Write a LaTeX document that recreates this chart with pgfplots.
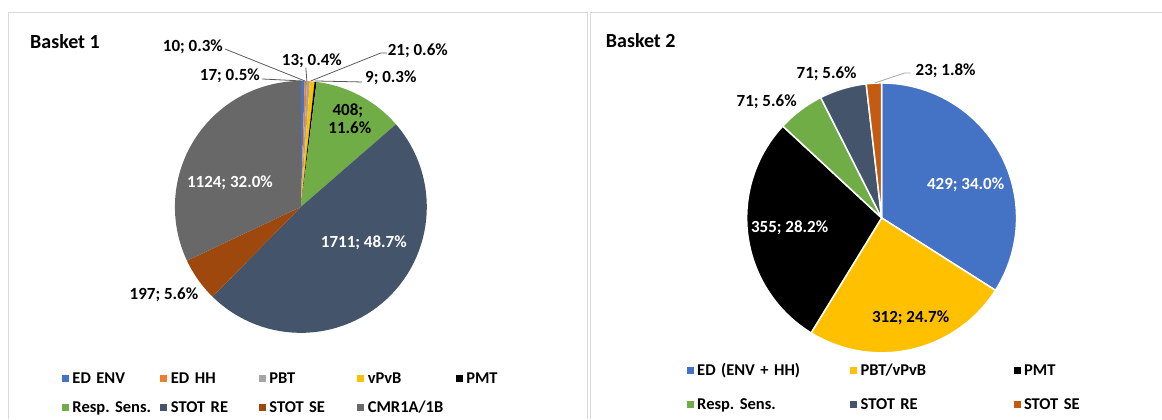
\documentclass[border=0pt]{standalone}
\usepackage{fontspec}
\setmainfont{Carlito}
\usepackage{pgfplots}
\pgfplotsset{compat=1.18}
\frenchspacing

\definecolor{cED}{HTML}{4472C4}
\definecolor{cHH}{HTML}{ED7D31}
\definecolor{cPBT}{HTML}{A5A5A5}
\definecolor{cvP}{HTML}{FFC000}
\definecolor{cPMT}{HTML}{000000}
\definecolor{cResp}{HTML}{70AD47}
\definecolor{cRE}{HTML}{44546A}
\definecolor{cSE}{HTML}{9E480E}
\definecolor{cSEb}{HTML}{C55A11}
\definecolor{cCMR}{HTML}{686868}
\definecolor{cframe}{HTML}{D9D9D9}
\definecolor{clead}{HTML}{595959}
\definecolor{cleadb}{HTML}{A6A6A6}

\newcommand\labfont{\fontsize{17}{20}\selectfont\bfseries}
\newcommand\titfont{\fontsize{20}{24}\selectfont\bfseries}
\tikzset{lab/.style={font=\labfont, inner sep=0pt, text height=11pt, text depth=0pt, anchor=center}}

% pie helpers: centre x, centre y, radius, total
\newcommand\pieinit[4]{\gdef\pcx{#1}\gdef\pcy{#2}\gdef\pr{#3}\gdef\ptot{#4}\gdef\pcum{0}}
\newcommand\pieslice[3]{%
  \pgfmathsetmacro\pa{\pcum/\ptot*360}%
  \pgfmathsetmacro\pnew{\pcum+#2}%
  \pgfmathsetmacro\pb{\pnew/\ptot*360}%
  \xdef\pcum{\pnew}%
  \edef\doslice{\noexpand\addplot[fill=#1, \pedge, samples at={0,1,...,62}, variable=\noexpand\t]
    ({((\noexpand\t<0.5)||(\noexpand\t>61.5)) ? \pcx : \pcx+\pr*sin(\pa+(\noexpand\t-1)*(\pb-\pa)/60)},
     {((\noexpand\t<0.5)||(\noexpand\t>61.5)) ? \pcy : \pcy-\pr*cos(\pa+(\noexpand\t-1)*(\pb-\pa)/60)});}%
  \doslice
  \addlegendentry{#3}%
}

\begin{document}
\begin{tikzpicture}
%================ Basket 1 ================
\begin{axis}[
  at={(0pt,0pt)}, anchor=south west,
  x=1pt, y=1pt, xmin=0, xmax=588, ymin=0, ymax=419, y dir=reverse,
  hide axis, clip=false,
  legend columns=5,
  legend cell align=left,
  legend image code/.code={\fill[draw=none] (0pt,-3.5pt) rectangle (7pt,3.5pt); \path[draw=none,fill=none] (0pt,0pt) -- (10.5pt,0pt);},
  legend style={draw=none, fill=none, inner sep=0pt, outer sep=0pt,
    at={(axis description cs:0.10544,0.11456)}, anchor=north west,
    column sep=0pt, row sep=13pt, font=\fontsize{16.5}{18}\selectfont\bfseries,
    nodes={inner sep=0pt, text width=80pt, text height=13pt, text depth=3pt, align=left},
    /tikz/every even column/.append style={column sep=8pt}},
]
\addplot[draw=none, forget plot] coordinates {(0,0) (588,419)};
\addplot[cframe, line width=1pt, forget plot] coordinates {(8.5,419) (8.5,12.5) (587.5,12.5) (587.5,419)};

\def\pedge{draw=none}
\pieinit{301}{207}{126}{3510}
\pieslice{cED}{17}{ED ENV}
\pieslice{cHH}{10}{ED HH}
\pieslice{cPBT}{13}{PBT}
\pieslice{cvP}{21}{vPvB}
\pieslice{cPMT}{9}{PMT}
\pieslice{cResp}{408}{Resp. Sens.}
\pieslice{cRE}{1711}{STOT RE}
\pieslice{cSE}{197}{STOT SE}
\pieslice{cCMR}{1124}{CMR1A/1B}

% leader lines
\addplot[clead, line width=0.8pt, forget plot] coordinates {(225,49) (305,81)};
\addplot[clead, line width=0.8pt, forget plot] coordinates {(262,79) (302,81)};
\addplot[clead, line width=0.8pt, forget plot] coordinates {(306,68) (307,81)};
\addplot[clead, line width=0.8pt, forget plot] coordinates {(387,53) (381,53) (311,81)};
\addplot[clead, line width=0.8pt, forget plot] coordinates {(362,82) (315,81)};

\node[anchor=west, font=\titfont, inner sep=0pt] at (axis cs:30,42) {Basket 1};
\node[lab] at (axis cs:193,46) {10; 0.3\%};
\node[lab] at (axis cs:312,60) {13; 0.4\%};
\node[lab] at (axis cs:230,75) {17; 0.5\%};
\node[lab] at (axis cs:418,50) {21; 0.6\%};
\node[lab] at (axis cs:391,77) {9; 0.3\%};
\node[lab] at (axis cs:348,110) {408;};
\node[lab] at (axis cs:350,128) {11.6\%};
\node[lab, text=white] at (axis cs:230,182) {1124; 32.0\%};
\node[lab, text=white] at (axis cs:364,242) {1711; 48.7\%};
\node[lab] at (axis cs:164,294) {197; 5.6\%};
\end{axis}

%================ Basket 2 ================
\begin{axis}[
  at={(588pt,0pt)}, anchor=south west,
  x=1pt, y=1pt, xmin=588, xmax=1162, ymin=0, ymax=419, y dir=reverse,
  hide axis, clip=false,
  legend columns=3,
  legend cell align=left,
  legend image code/.code={\fill[draw=none] (0pt,-3.5pt) rectangle (7pt,3.5pt); \path[draw=none,fill=none] (0pt,0pt) -- (10.5pt,0pt);},
  legend style={draw=none, fill=none, inner sep=0pt, outer sep=0pt,
    at={(axis description cs:0.17247,0.13365)}, anchor=north west,
    column sep=0pt, row sep=18pt, font=\fontsize{16.5}{18}\selectfont\bfseries,
    nodes={inner sep=0pt, text width=110pt, text height=13pt, text depth=3pt, align=left},
    /tikz/every even column/.append style={column sep=43pt}},
]
\addplot[draw=none, forget plot] coordinates {(588,0) (1162,419)};
\addplot[cframe, line width=1pt, forget plot] coordinates {(590.5,419) (590.5,12.5) (1162,12.5)};

\def\pedge{draw=white, line width=1.5pt}
\pieinit{882}{218}{135}{1261}
\pieslice{cED}{429}{ED (ENV + HH)}
\pieslice{cvP}{312}{PBT/vPvB}
\pieslice{cPMT}{355}{PMT}
\pieslice{cResp}{71}{Resp. Sens.}
\pieslice{cRE}{71}{STOT RE}
\pieslice{cSEb}{23}{STOT SE}

\addplot[cleadb, line width=0.8pt, forget plot] coordinates {(911,73) (905,73) (875,83)};

\node[anchor=west, font=\titfont, inner sep=0pt] at (axis cs:606,41) {Basket 2};
\node[lab, text=white] at (axis cs:966,184) {429; 34.0\%};
\node[lab] at (axis cs:911,317) {312; 24.7\%};
\node[lab, text=white] at (axis cs:790,227) {355; 28.2\%};
\node[lab] at (axis cs:767,101) {71; 5.6\%};
\node[lab] at (axis cs:827,73) {71; 5.6\%};
\node[lab] at (axis cs:946,70) {23; 1.8\%};
\end{axis}
\end{tikzpicture}
\end{document}
